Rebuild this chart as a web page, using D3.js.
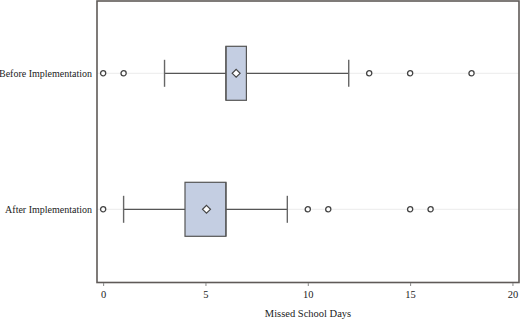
<!DOCTYPE html>
<html>
<head>
<meta charset="utf-8">
<script src="https://cdn.jsdelivr.net/npm/d3@7"></script>
<style>
  body { margin: 0; background: #fff; }
  text { font-family: "Liberation Serif", "Times New Roman", serif; fill: #222; }
</style>
</head>
<body>
<div id="chart"></div>
<script>
// groups, top to bottom
var groups = ["Before Implementation", "After Implementation"];
var q1 = [6, 4],
    median = [6, 6],
    q3 = [7, 6],
    mean = [6.5, 5.05],
    whiskLo = [3, 1],
    whiskHi = [12, 9];
var outliers = [[0, 1, 13, 15, 18], [0, 10, 11, 15, 16]];
var xTicks = [0, 5, 10, 15, 20];

var W = 520, H = 319;
var margin = {top: 1, right: 1, bottom: 36, left: 97};
var width = W - margin.left - margin.right,
    height = H - margin.top - margin.bottom;

var svg = d3.select("#chart").append("svg")
    .attr("width", W)
    .attr("height", H);

var g = svg.append("g")
    .attr("transform", "translate(" + margin.left + "," + margin.top + ")");

var x = d3.scaleLinear().domain([-0.3, 20.32]).range([0, width]);
var y = d3.scalePoint().domain(groups).range([72.3, 208.3]);

var boxH = 54;

// light grid lines at each group
g.selectAll(".grid")
  .data(groups)
  .enter().append("line")
    .attr("x1", 0).attr("x2", width)
    .attr("y1", function(d) { return y(d); })
    .attr("y2", function(d) { return y(d); })
    .attr("stroke", "#ececec")
    .attr("stroke-width", 1);

var rows = g.selectAll(".row")
  .data(groups)
  .enter().append("g")
    .attr("class", "row")
    .attr("transform", function(d) { return "translate(0," + y(d) + ")"; });

// whisker line
rows.append("line")
    .attr("x1", function(d, i) { return x(whiskLo[i]); })
    .attr("x2", function(d, i) { return x(whiskHi[i]); })
    .attr("stroke", "#555").attr("stroke-width", 1.2);

// whisker caps
rows.each(function(d, i) {
  d3.select(this).selectAll(".cap")
    .data([whiskLo[i], whiskHi[i]])
    .enter().append("line")
      .attr("x1", function(v) { return x(v); })
      .attr("x2", function(v) { return x(v); })
      .attr("y1", -boxH / 4).attr("y2", boxH / 4)
      .attr("stroke", "#666").attr("stroke-width", 1.4);
});

// box
rows.append("rect")
    .attr("x", function(d, i) { return x(q1[i]); })
    .attr("y", -boxH / 2)
    .attr("width", function(d, i) { return x(q3[i]) - x(q1[i]); })
    .attr("height", boxH)
    .attr("fill", "#c4cee2")
    .attr("stroke", "#555")
    .attr("stroke-width", 1.2);

// median
rows.append("line")
    .attr("x1", function(d, i) { return x(median[i]); })
    .attr("x2", function(d, i) { return x(median[i]); })
    .attr("y1", -boxH / 2).attr("y2", boxH / 2)
    .attr("stroke", "#555").attr("stroke-width", 1.2);

// mean diamond
rows.append("path")
    .attr("d", d3.symbol().type(d3.symbolDiamond2).size(40))
    .attr("transform", function(d, i) { return "translate(" + x(mean[i]) + ",0)"; })
    .attr("fill", "#fff")
    .attr("stroke", "#444")
    .attr("stroke-width", 1.2);

// outliers
rows.each(function(d, i) {
  d3.select(this).selectAll(".out")
    .data(outliers[i])
    .enter().append("circle")
      .attr("cx", function(v) { return x(v); })
      .attr("cy", 0)
      .attr("r", 2.6)
      .attr("fill", "#fff")
      .attr("stroke", "#444")
      .attr("stroke-width", 1.3);
});

// group labels
rows.append("text")
    .attr("x", -5)
    .attr("dy", "0.35em")
    .attr("text-anchor", "end")
    .style("font-size", "10px")
    .text(function(d) { return d; });

// frame
g.append("rect")
    .attr("x", 0).attr("y", 0)
    .attr("width", width).attr("height", height - 0.5)
    .attr("fill", "none")
    .attr("stroke", "#5f5a58")
    .attr("stroke-width", 1.6);

// x axis
var xAxis = d3.axisBottom(x).tickValues(xTicks).tickSize(3).tickPadding(5);
var ax = g.append("g")
    .attr("transform", "translate(0," + height + ")")
    .call(xAxis);
ax.select(".domain").remove();
ax.selectAll(".tick line").attr("stroke", "#888");
ax.selectAll(".tick text")
    .style("font-size", "10.5px")
    .style("font-family", "'Liberation Serif', serif")
    .attr("fill", "#222");

g.append("text")
    .attr("x", width / 2)
    .attr("y", height + 34)
    .attr("text-anchor", "middle")
    .style("font-size", "10.5px")
    .text("Missed School Days");
</script>
</body>
</html>
